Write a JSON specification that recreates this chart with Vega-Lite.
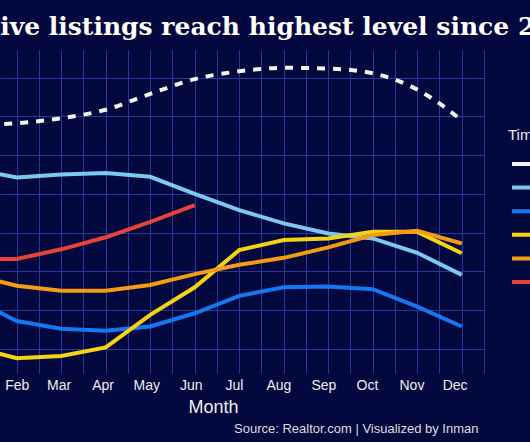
{
  "$schema": "https://vega.github.io/schema/vega-lite/v6.json",
  "width": 484,
  "height": 323,
  "autosize": {"type": "none"},
  "padding": {"left": 0, "top": 50, "right": 46, "bottom": 69},
  "background": "#03083e",
  "title": {
    "text": "Active listings reach highest level since 2020",
    "anchor": "start",
    "frame": "group",
    "dx": -46,
    "dy": 26,
    "offset": 16,
    "font": "DejaVu Serif",
    "fontSize": 25,
    "fontWeight": "bold",
    "color": "#ffffff",
    "baseline": "alphabetic"
  },
  "data": {
    "values": [
      {"year": "2019", "month": 1, "listings": 977},
      {"year": "2019", "month": 2, "listings": 982},
      {"year": "2019", "month": 3, "listings": 995},
      {"year": "2019", "month": 4, "listings": 1017},
      {"year": "2019", "month": 5, "listings": 1058},
      {"year": "2019", "month": 6, "listings": 1096},
      {"year": "2019", "month": 7, "listings": 1116},
      {"year": "2019", "month": 8, "listings": 1125},
      {"year": "2019", "month": 9, "listings": 1123},
      {"year": "2019", "month": 10, "listings": 1111},
      {"year": "2019", "month": 11, "listings": 1069},
      {"year": "2019", "month": 12, "listings": 990},
      {"year": "2020", "month": 1, "listings": 865},
      {"year": "2020", "month": 2, "listings": 842},
      {"year": "2020", "month": 3, "listings": 850},
      {"year": "2020", "month": 4, "listings": 854},
      {"year": "2020", "month": 5, "listings": 844},
      {"year": "2020", "month": 6, "listings": 800},
      {"year": "2020", "month": 7, "listings": 758},
      {"year": "2020", "month": 8, "listings": 724},
      {"year": "2020", "month": 9, "listings": 698},
      {"year": "2020", "month": 10, "listings": 685},
      {"year": "2020", "month": 11, "listings": 648},
      {"year": "2020", "month": 12, "listings": 591},
      {"year": "2021", "month": 1, "listings": 530},
      {"year": "2021", "month": 2, "listings": 472},
      {"year": "2021", "month": 3, "listings": 452},
      {"year": "2021", "month": 4, "listings": 447},
      {"year": "2021", "month": 5, "listings": 458},
      {"year": "2021", "month": 6, "listings": 492},
      {"year": "2021", "month": 7, "listings": 537},
      {"year": "2021", "month": 8, "listings": 559},
      {"year": "2021", "month": 9, "listings": 561},
      {"year": "2021", "month": 10, "listings": 554},
      {"year": "2021", "month": 11, "listings": 509},
      {"year": "2021", "month": 12, "listings": 458},
      {"year": "2022", "month": 1, "listings": 406},
      {"year": "2022", "month": 2, "listings": 376},
      {"year": "2022", "month": 3, "listings": 382},
      {"year": "2022", "month": 4, "listings": 404},
      {"year": "2022", "month": 5, "listings": 488},
      {"year": "2022", "month": 6, "listings": 559},
      {"year": "2022", "month": 7, "listings": 655},
      {"year": "2022", "month": 8, "listings": 681},
      {"year": "2022", "month": 9, "listings": 685},
      {"year": "2022", "month": 10, "listings": 702},
      {"year": "2022", "month": 11, "listings": 702},
      {"year": "2022", "month": 12, "listings": 647},
      {"year": "2023", "month": 1, "listings": 591},
      {"year": "2023", "month": 2, "listings": 563},
      {"year": "2023", "month": 3, "listings": 550},
      {"year": "2023", "month": 4, "listings": 550},
      {"year": "2023", "month": 5, "listings": 565},
      {"year": "2023", "month": 6, "listings": 593},
      {"year": "2023", "month": 7, "listings": 617},
      {"year": "2023", "month": 8, "listings": 635},
      {"year": "2023", "month": 9, "listings": 662},
      {"year": "2023", "month": 10, "listings": 694},
      {"year": "2023", "month": 11, "listings": 705},
      {"year": "2023", "month": 12, "listings": 672},
      {"year": "2024", "month": 1, "listings": 632},
      {"year": "2024", "month": 2, "listings": 632},
      {"year": "2024", "month": 3, "listings": 657},
      {"year": "2024", "month": 4, "listings": 688},
      {"year": "2024", "month": 5, "listings": 728},
      {"year": "2024", "month": 6, "listings": 771}
    ]
  },
  "layer": [
    {
      "transform": [{"filter": "datum.year == '2019'"}],
      "mark": {"type": "line", "strokeWidth": 4, "strokeDash": [8, 8], "strokeCap": "butt", "interpolate": "monotone", "clip": true},
      "encoding": {
        "x": {
          "field": "month", "type": "quantitative",
          "scale": {"domain": [1.624, 12.5], "nice": false, "zero": false},
          "axis": {
            "orient": "bottom",
            "values": [2.0, 2.94, 3.93, 4.91, 5.91, 6.88, 7.88, 8.89, 9.87, 10.87, 11.84],
            "labelExpr": "['Jan','Feb','Mar','Apr','May','Jun','Jul','Aug','Sep','Oct','Nov','Dec'][round(datum.value)-1]",
            "grid": false, "ticks": false, "domain": false,
            "labelFlush": false, "labelOverlap": false, "labelBound": false,
            "labelPadding": 5, "labelFontSize": 14, "labelColor": "#eeeeee",
            "title": "Month", "titleFontSize": 18, "titleFontWeight": "normal", "titleColor": "#eeeeee",
            "titleX": 213, "titleY": 39.3, "titleAlign": "center", "titleBaseline": "alphabetic"
          }
        },
        "y": {
          "field": "listings", "type": "quantitative",
          "scale": {"domain": [338, 1171], "nice": false, "zero": false},
          "axis": {"values": [400, 500, 600, 700, 800, 900, 1000, 1100], "domain": false, "ticks": false, "labels": false, "title": null}
        },
        "color": {
          "field": "year", "type": "nominal",
          "scale": {"domain": ["2019", "2020", "2021", "2022", "2023", "2024"], "range": ["#f4f4f4", "#7cc8f0", "#1478f0", "#f5d214", "#f59c14", "#e8413a"]},
          "legend": {
            "title": "Time period", "orient": "none", "legendX": 508, "legendY": 78,
            "symbolType": "stroke", "symbolSize": 1600, "symbolStrokeWidth": 4, "symbolOffset": 2,
            "clipHeight": 16, "rowPadding": 7.6, "titlePadding": 13, "padding": 0,
            "titleFont": "Liberation Sans", "titleFontSize": 15, "titleFontWeight": "normal", "titleColor": "#e8e8e8",
            "labelFont": "Liberation Sans", "labelFontSize": 14, "labelColor": "#e8e8e8"
          }
        }
      }
    },
    {
      "transform": [{"filter": "datum.year != '2019'"}],
      "mark": {"type": "line", "strokeWidth": 4, "strokeCap": "butt", "clip": true},
      "encoding": {
        "x": {
          "field": "month", "type": "quantitative",
          "scale": {"domain": [1.624, 12.5], "nice": false, "zero": false},
          "axis": {
            "orient": "bottom",
            "values": [1.5, 2, 2.5, 3, 3.5, 4, 4.5, 5, 5.5, 6, 6.5, 7, 7.5, 8, 8.5, 9, 9.5, 10, 10.5, 11, 11.5, 12, 12.5],
            "grid": true, "labels": false, "ticks": false, "domain": false,
            "title": "Source: Realtor.com | Visualized by Inman",
            "titleFontSize": 13, "titleFontWeight": "normal", "titleColor": "#dddddd",
            "titleX": 478, "titleY": 59.7, "titleAlign": "right", "titleBaseline": "alphabetic"
          }
        },
        "y": {
          "field": "listings", "type": "quantitative",
          "scale": {"domain": [338, 1171], "nice": false, "zero": false},
          "axis": {"values": [400, 500, 600, 700, 800, 900, 1000, 1100], "domain": false, "ticks": false, "labels": false, "title": null}
        },
        "color": {
          "field": "year", "type": "nominal",
          "scale": {"domain": ["2019", "2020", "2021", "2022", "2023", "2024"], "range": ["#f4f4f4", "#7cc8f0", "#1478f0", "#f5d214", "#f59c14", "#e8413a"]},
          "legend": {
            "title": "Time period", "orient": "none", "legendX": 508, "legendY": 78,
            "symbolType": "stroke", "symbolSize": 1600, "symbolStrokeWidth": 4, "symbolOffset": 2,
            "clipHeight": 16, "rowPadding": 7.6, "titlePadding": 13, "padding": 0,
            "titleFont": "Liberation Sans", "titleFontSize": 15, "titleFontWeight": "normal", "titleColor": "#e8e8e8",
            "labelFont": "Liberation Sans", "labelFontSize": 14, "labelColor": "#e8e8e8"
          }
        }
      }
    }
  ],
  "resolve": {"axis": {"x": "independent"}},
  "config": {
    "view": {"stroke": null},
    "axis": {"labelFont": "Liberation Sans", "titleFont": "Liberation Sans", "gridColor": "#26389a", "gridWidth": 1, "gridOpacity": 1}
  }
}
